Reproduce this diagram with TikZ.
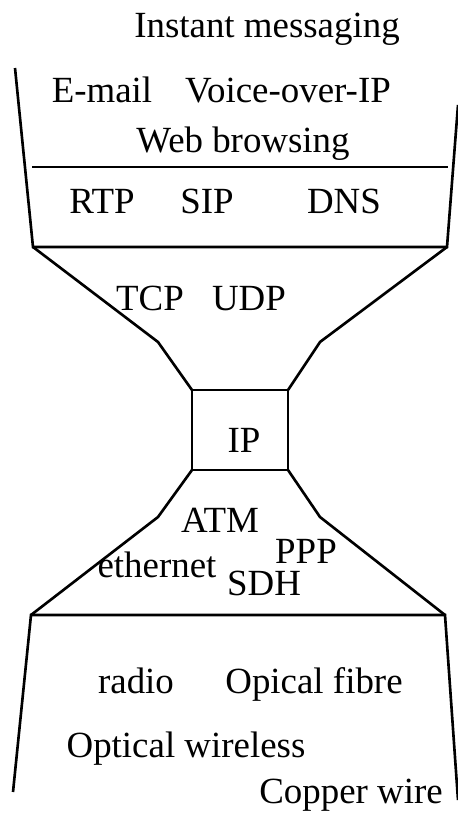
\documentclass[tikz,border=0pt]{standalone}
\usepackage{fontspec}
\setmainfont{Liberation Serif}

\begin{document}
\begin{tikzpicture}[x=0.02cm,y=-0.02cm,black,line width=1.5pt,
    lbl/.style={font=\fontsize{21}{25}\selectfont,inner sep=0pt,anchor=base}]
    \useasboundingbox (0,0) rectangle (457,815);

    % Coordinates
    \coordinate(A) at (15,68);
    \coordinate(B) at (33,247);
    \coordinate(C) at (447,247);
    \coordinate(D) at (458,105);
    \coordinate(E) at (32,167);
    \coordinate(F) at (448,167);
    \coordinate(G) at (158,342);
    \coordinate(H) at (320,342);
    \coordinate(I) at (192,390);
    \coordinate(J) at (288,470);
    \coordinate(K) at (158,517);
    \coordinate(L) at (320,517);
    \coordinate(M) at (31,615);
    \coordinate(N) at (445,615);
    \coordinate(O) at (13,792);
    \coordinate(P) at (458,800);

    % Application layer
    \draw (A) -- (B) -- (C) -- (D);
    \draw (E) -- (F);

    % Hourglass waist
    \draw (B) -- (G) -- (I);
    \draw (C) -- (H) -- (I -| J);
    \draw (I) rectangle (J);
    \draw (I |- J) -- (K) -- (M);
    \draw (J) -- (L) -- (N);

    % Physical layer
    \draw (O) -- (M) -- (N) -- (P);

    % Labels
    \node[lbl] (im)   at (267,37)  {Instant messaging};
    \node[lbl] (mail) at (102,102) {E-mail};
    \node[lbl] (voip) at (288,102) {Voice-over-IP};
    \node[lbl] (web)  at (243,152) {Web browsing};
    \node[lbl] (rtp)  at (102,213) {RTP};
    \node[lbl] (sip)  at (207,213) {SIP};
    \node[lbl] (dns)  at (344,213) {DNS};
    \node[lbl] (tcp)  at (150,310) {TCP};
    \node[lbl] (udp)  at (249,310) {UDP};
    \node[lbl] (ip)   at (244,452) {IP};
    \node[lbl] (atm)  at (220,532) {ATM};
    \node[lbl] (ppp)  at (306,563) {PPP};
    \node[lbl] (eth)  at (157,577) {ethernet};
    \node[lbl] (sdh)  at (264,595) {SDH};
    \node[lbl] (rad)  at (136,693) {radio};
    \node[lbl] (fib)  at (314,693) {Opical fibre};
    \node[lbl] (owl)  at (186,757) {Optical wireless};
    \node[lbl] (cu)   at (351,803) {Copper wire};

\end{tikzpicture}
\end{document}
